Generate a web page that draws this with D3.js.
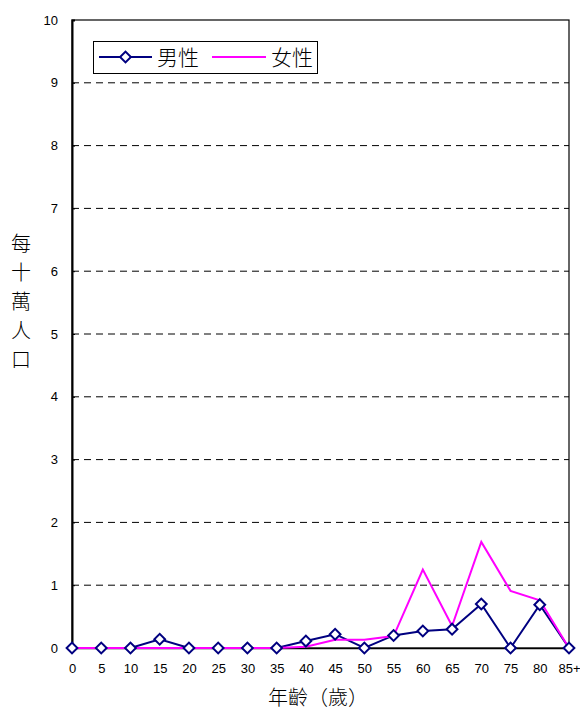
<!DOCTYPE html>
<html>
<head>
<meta charset="utf-8">
<script src="https://cdn.jsdelivr.net/npm/d3@7"></script>
<style>
	body { margin: 0; background: white; }
	svg { display: block; }
</style>
</head>
<body>
<script>
// age groups and rates per 100,000
var ages = ['0', '5', '10', '15', '20', '25', '30', '35', '40', '45', '50', '55', '60', '65', '70', '75', '80', '85+']
var male = [0, 0, 0, 0.14, 0, 0, 0, 0, 0.11, 0.22, 0, 0.2, 0.27, 0.3, 0.7, 0, 0.69, 0]
var female = [0, 0, 0, 0, 0, 0, 0, 0, 0.02, 0.13, 0.13, 0.19, 1.25, 0.35, 1.69, 0.91, 0.76, 0]
var yTicks = [0, 1, 2, 3, 4, 5, 6, 7, 8, 9, 10]
var seriesNames = ['男性', '女性']
var yLabel = '每十萬人口'
var xLabel = '年齡（歲）'

var width = 580, height = 711
var plotLeft = 72, plotRight = 569, plotTop = 20, plotBottom = 648

var numFont = '"Liberation Sans", Arial, sans-serif'
var cjkFont = '"Noto Sans CJK TC", "Noto Sans CJK SC", sans-serif'

var svg = d3.select('body').append('svg')
	.attr('width', width)
	.attr('height', height)

var x = d3.scalePoint()
	.domain(ages)
	.range([plotLeft, plotRight])

var y = d3.scaleLinear()
	.domain([0, 10])
	.range([plotBottom, plotTop])

// dashed gridlines
svg.append('g')
	.selectAll('line')
	.data(yTicks.filter(d => d > 0 && d < 10))
	.enter()
	.append('line')
		.attr('x1', plotLeft)
		.attr('x2', plotRight)
		.attr('y1', d => y(d))
		.attr('y2', d => y(d))
		.attr('stroke', '#000')
		.attr('stroke-width', 1)
		.attr('stroke-dasharray', '7,5')

// plot border
svg.append('rect')
	.attr('x', plotLeft)
	.attr('y', plotTop)
	.attr('width', plotRight - plotLeft)
	.attr('height', plotBottom - plotTop)
	.attr('fill', 'none')
	.attr('stroke', '#000')
	.attr('stroke-width', 1.2)

// y axis
var yAxis = svg.append('g')
	.attr('transform', 'translate(' + plotLeft + ',0)')
	.call(d3.axisLeft(y).tickValues(yTicks).tickSize(-3).tickPadding(14))
yAxis.select('.domain').attr('stroke-width', 2)
yAxis.selectAll('text')
	.style('font-family', numFont)
	.style('font-size', '13px')
	.attr('fill', '#000')

// x axis
var xAxis = svg.append('g')
	.attr('transform', 'translate(0,' + plotBottom + ')')
	.call(d3.axisBottom(x).tickSize(0).tickPadding(16))
xAxis.select('.domain').attr('stroke-width', 1.5)
xAxis.selectAll('text')
	.style('font-family', numFont)
	.style('font-size', '13px')
	.attr('fill', '#000')

var line = d3.line()
	.x((d, i) => x(ages[i]))
	.y(d => y(d))

// male line first, female over it, then the male markers on top
svg.append('path')
	.datum(male)
	.attr('d', line)
	.attr('fill', 'none')
	.attr('stroke', '#000080')
	.attr('stroke-width', 2)

svg.append('path')
	.datum(female)
	.attr('d', line)
	.attr('fill', 'none')
	.attr('stroke', '#ff00ff')
	.attr('stroke-width', 2)

var diamond = d3.symbol().type(d3.symbolSquare).size(58)

svg.append('g')
	.selectAll('path')
	.data(male)
	.enter()
	.append('path')
		.attr('d', diamond)
		.attr('transform', (d, i) => 'translate(' + x(ages[i]) + ',' + y(d) + ') rotate(45)')
		.attr('fill', 'white')
		.attr('stroke', '#000080')
		.attr('stroke-width', 2)

// legend
var legend = svg.append('g')
legend.append('rect')
	.attr('x', 93.5)
	.attr('y', 41.5)
	.attr('width', 224)
	.attr('height', 32)
	.attr('fill', 'white')
	.attr('stroke', '#000')
	.attr('stroke-width', 1)

legend.append('line')
	.attr('x1', 99).attr('x2', 152)
	.attr('y1', 57).attr('y2', 57)
	.attr('stroke', '#000080')
	.attr('stroke-width', 2)
legend.append('path')
	.attr('d', diamond)
	.attr('transform', 'translate(125.5,57) rotate(45)')
	.attr('fill', 'white')
	.attr('stroke', '#000080')
	.attr('stroke-width', 2)
legend.append('line')
	.attr('x1', 212).attr('x2', 266)
	.attr('y1', 57).attr('y2', 57)
	.attr('stroke', '#ff00ff')
	.attr('stroke-width', 2)

legend.selectAll('text')
	.data(seriesNames)
	.enter()
	.append('text')
		.attr('x', (d, i) => i == 0 ? 157 : 271)
		.attr('y', 65)
		.style('font-family', cjkFont)
		.style('font-size', '21px')
		.style('font-weight', 300)
		.attr('fill', '#000')
		.text(d => d)

// y label, stacked characters
svg.append('g')
	.selectAll('text')
	.data(yLabel.split(''))
	.enter()
	.append('text')
		.attr('x', 21)
		.attr('y', (d, i) => 251 + i * 29)
		.attr('text-anchor', 'middle')
		.style('font-family', cjkFont)
		.style('font-size', '20px')
		.style('font-weight', 300)
		.attr('fill', '#000')
		.text(d => d)

svg.append('text')
	.attr('x', 318)
	.attr('y', 705)
	.attr('text-anchor', 'middle')
	.style('font-family', cjkFont)
	.style('font-size', '20px')
	.style('font-weight', 300)
	.attr('fill', '#000')
	.text(xLabel)
</script>
</body>
</html>
